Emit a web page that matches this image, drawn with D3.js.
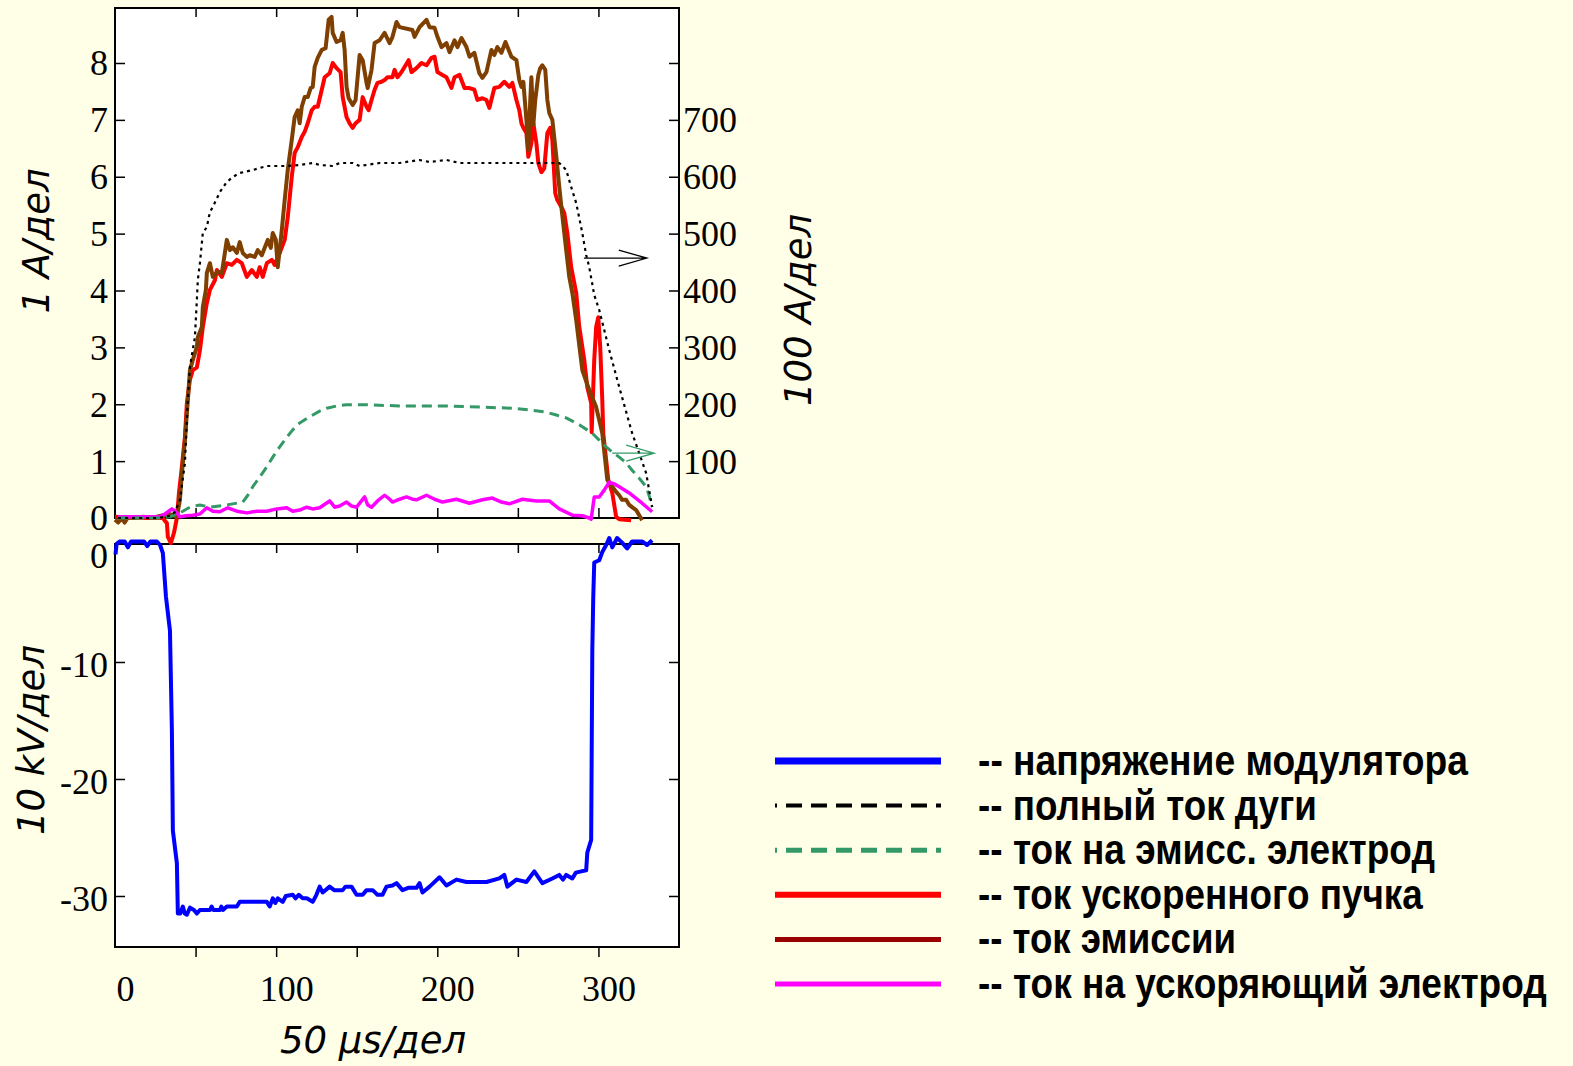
<!DOCTYPE html>
<html lang="ru">
<head>
<meta charset="UTF-8">
<title>Импульс тока и напряжения</title>
<script src="https://cdn.jsdelivr.net/npm/d3@7"></script>
<style>
  body { margin: 0; background: #fffee6; overflow: hidden; }
  svg { display: block; }
  .frame { fill: #fff; stroke: #000; stroke-width: 2; }
  .tick line { stroke: #000; stroke-width: 1.5; }
  .tick text { font-family: "Liberation Serif", "Times New Roman", serif; font-size: 36px; fill: #000; }
  .title { font-family: "DejaVu Sans", Verdana, sans-serif; font-style: italic; font-size: 37px; fill: #000; }
  .legend text { font-family: "Liberation Sans Narrow", "Arial Narrow", "Liberation Sans", Arial, sans-serif; font-weight: bold; font-size: 42px; fill: #000; }
</style>
</head>
<body>
<svg width="1573" height="1066"></svg>
<script>
// ---- data (time in us, top panel current in A, arc current in A, voltage in kV) ----
var xTicks = [50, 100, 150, 200, 250, 300];
var xLabels = [0, 100, 200, 300];
var leftTicksTop = [0, 1, 2, 3, 4, 5, 6, 7, 8];
var rightTicksTop = [100, 200, 300, 400, 500, 600, 700, 800];
var rightLabelsTop = [100, 200, 300, 400, 500, 600, 700];
var voltTicks = [0, -10, -20, -30];

var modulatorVoltage = [[0.3,-0.8],[1,0.1],[3,0.3],[6,0.3],[8,-0.2],[10,0.3],[18,0.3],[20,-0.1],[22,0.3],[26,0.3],[28,0.0],[29.7,-0.7],[31.6,-4.4],[34.1,-7.3],[35.3,-15.8],[35.9,-24.4],[38.4,-27.2],[39.0,-31.5],[40.5,-31.5],[42.1,-30.9],[43.3,-31.5],[44.6,-31.6],[46.5,-31.0],[49,-31.2],[50.8,-31.5],[52.7,-31.2],[58.9,-31.2],[60,-30.9],[61,-31.2],[65.1,-31.2],[66,-30.9],[67,-31.2],[69.4,-30.9],[75.6,-30.9],[77.4,-30.5],[94.2,-30.5],[96.0,-30.9],[97.9,-30.2],[99.5,-30.6],[101,-30.2],[104.1,-30.5],[106,-30.0],[110.3,-29.9],[112,-30.2],[114,-29.9],[116.5,-30.2],[119,-30.2],[122.7,-30.5],[125,-29.9],[127.0,-29.2],[128.9,-29.7],[133.2,-29.2],[136,-29.5],[141.3,-29.5],[143,-29.2],[146.8,-29.2],[149.9,-29.9],[153.7,-29.9],[156.1,-29.5],[159.9,-29.5],[162.9,-29.9],[166.0,-29.9],[168.5,-29.2],[172.2,-29.1],[174.7,-28.9],[178.4,-29.5],[182,-29.3],[187.1,-29.3],[189.0,-28.9],[190.8,-29.7],[195.2,-29.2],[201.4,-28.4],[205.7,-29.1],[211.9,-28.6],[218.1,-28.8],[230.5,-28.8],[238.5,-28.5],[241.6,-28.2],[243.5,-29.2],[249.1,-28.6],[255.3,-28.8],[260.2,-27.9],[265.2,-28.9],[271.4,-28.5],[275.7,-28.2],[278,-28.6],[280,-28.2],[283.8,-28.5],[286,-28.0],[289.3,-27.9],[292.4,-27.8],[293.1,-26.3],[295.5,-25.2],[296.2,-9.0],[296.8,-4.4],[297.4,-1.5],[300.5,-1.3],[302.4,-0.6],[304.8,0],[306.7,0.6],[308.6,-0.2],[311.6,0.6],[314.7,0.2],[317.8,-0.3],[320.9,0.3],[327.1,0.3],[330.2,0],[333.3,0.4]];

var arcCurrent = [[1.9,0],[26,0],[34.1,3.5],[37.2,10.5],[40.3,31.6],[43.4,96.7],[45.2,207.5],[46.5,265.5],[49.6,318.2],[50.8,383.3],[51.4,418.5],[52.7,448.4],[54.5,501.1],[57.0,511.6],[58.9,538.0],[60.7,546.8],[65.1,573.2],[69.4,590.8],[73.1,599.6],[77.4,606.6],[85.5,611.9],[94.2,618.9],[106.6,618.9],[114.6,620.7],[122.7,624.2],[127.0,620.7],[135.1,618.9],[139.4,624.2],[147.5,624.2],[151.8,618.9],[164.2,624.2],[176.6,624.2],[189.0,629.5],[195.2,626.0],[205.7,629.5],[213.8,624.2],[238.5,624.2],[275.7,624.2],[280.0,611.9],[283.1,582.0],[286.2,553.8],[290.0,501.1],[292.4,462.4],[294.3,441.3],[297.4,392.1],[300.5,365.7],[306.7,295.4],[312.9,230.3],[320.9,149.5],[329.6,79.1],[333.3,19.3]];

var emissElectrodeCurrent = [[1.9,0],[27.9,0],[34.1,0.02],[40.3,0.09],[46.5,0.19],[52.7,0.23],[58.9,0.19],[69.4,0.23],[79.3,0.28],[82.4,0.40],[85.5,0.55],[89.8,0.72],[94.2,0.90],[97.9,1.07],[102.2,1.25],[106.6,1.42],[110.3,1.55],[114.6,1.67],[120.8,1.78],[127.0,1.88],[131.4,1.93],[137.5,1.97],[143.7,1.99],[156.1,1.99],[176.6,1.97],[205.7,1.97],[226.1,1.95],[246.6,1.93],[257.1,1.90],[267.7,1.86],[273.9,1.81],[280.0,1.76],[288.1,1.64],[296.2,1.49],[300.5,1.37],[304.8,1.25],[308.6,1.16],[312.9,1.07],[317.2,0.97],[320.9,0.84],[325.3,0.70],[329.6,0.55],[331.4,0.40],[333.3,0.19]];

var beamCurrent = [[0,0.02],[10,0.01],[20,0],[29.7,0],[31.0,-0.05],[32.2,-0.09],[32.8,-0.33],[34.7,-0.44],[36.6,-0.26],[38.4,0],[39.7,0.44],[41.5,0.90],[43.4,1.42],[44.6,2.02],[46.5,2.43],[48.3,2.60],[50.8,2.65],[52.7,2.95],[54.5,3.36],[57.0,3.78],[58.9,4.01],[62.0,4.18],[63.2,4.36],[66.3,4.24],[69.4,4.48],[72.5,4.45],[75.6,4.54],[78.7,4.48],[81.8,4.24],[84.9,4.36],[88.0,4.24],[89.8,4.41],[91.7,4.24],[94.2,4.48],[97.3,4.54],[99.1,4.45],[102.2,4.66],[105.3,4.89],[107.2,5.29],[109.7,6.00],[111.5,6.42],[113.4,6.52],[115.9,6.70],[117.7,6.79],[119.6,6.94],[122.1,7.17],[123.9,7.23],[125.8,7.23],[128.3,7.53],[130.1,7.75],[133.2,7.82],[135.1,8.00],[137.5,7.91],[140.0,7.84],[141.3,7.40],[143.7,7.05],[145.6,6.94],[147.5,6.86],[149.3,6.94],[151.8,7.00],[153.7,7.40],[156.1,7.23],[157.4,7.17],[159.2,7.35],[161.1,7.53],[162.9,7.65],[165.4,7.67],[167.3,7.70],[169.1,7.75],[172.2,7.75],[173.5,7.88],[175.3,7.75],[177.8,7.84],[179.7,7.93],[182.2,8.05],[184.0,7.84],[187.1,7.91],[190.2,8.00],[193.3,7.96],[196.4,8.09],[198.3,8.11],[200.1,7.84],[203.2,7.79],[205.7,7.75],[208.8,7.56],[210.7,7.75],[213.8,7.79],[216.9,7.56],[220.0,7.56],[223.0,7.53],[224.9,7.35],[228.0,7.38],[230.5,7.35],[232.3,7.21],[235.4,7.56],[238.5,7.58],[241.6,7.67],[244.7,7.58],[246.6,7.65],[249.1,7.35],[250.9,7.17],[252.2,6.94],[253.4,6.86],[255.3,6.77],[256.5,6.35],[258.4,6.59],[259.6,6.94],[261.5,6.59],[262.7,6.24],[264.6,6.08],[266.4,6.15],[268.3,6.77],[270.1,6.86],[271.4,6.65],[273.2,5.71],[274.5,5.59],[277.0,5.47],[278.8,5.36],[280.7,5.01],[283.1,4.41],[286.2,3.96],[288.1,3.36],[291.2,2.78],[293.1,2.30],[295.5,2.02],[295.8,1.51],[297.4,2.78],[298.6,3.36],[299.9,3.53],[301.1,3.01],[302.4,2.07],[303.0,1.49],[304.8,1.02],[306.1,0.67],[308.6,0.44],[311.0,0.02],[312.9,-0.02],[320.3,-0.04]];

var emissionCurrent = [[0,-0.03],[2,-0.08],[4,0],[6,-0.08],[8,0.01],[12,0],[17,0.02],[24,0.01],[30,0.05],[34,0.07],[36,0.05],[38.4,0.02],[40.3,0.32],[41.5,0.79],[43.4,1.37],[45.2,2.07],[46.5,2.60],[48.3,2.78],[50.8,3.01],[51.4,3.18],[53.9,3.36],[54.5,3.71],[56.4,4.01],[57.0,4.31],[58.9,4.48],[60.7,4.24],[63.8,4.33],[66.3,4.31],[69.4,4.89],[71.3,4.71],[73.1,4.76],[75.6,4.66],[77.4,4.85],[79.3,4.66],[81.8,4.59],[83.6,4.62],[86.7,4.59],[88.6,4.71],[91.1,4.62],[92.9,4.75],[94.8,4.89],[96.7,4.75],[97.9,5.01],[99.8,4.89],[101.0,4.41],[103.5,5.06],[105.3,5.59],[107.2,6.12],[109.7,6.65],[111.5,7.05],[113.4,7.17],[114.6,6.94],[115.9,7.23],[117.7,7.40],[119.6,7.40],[121.4,7.56],[122.7,7.58],[123.9,7.93],[125.8,8.09],[128.3,8.23],[130.7,8.26],[132.6,8.76],[134.4,8.81],[135.1,8.53],[137.5,8.37],[140.0,8.40],[141.3,8.53],[142.5,8.23],[143.7,7.58],[145.0,7.38],[147.5,7.26],[149.3,7.35],[151.8,8.14],[153.7,8.05],[156.1,7.65],[156.8,7.56],[159.2,7.88],[161.1,8.35],[164.2,8.40],[167.3,8.53],[170.4,8.35],[172.2,8.46],[174.7,8.72],[176.6,8.63],[184.6,8.58],[185.9,8.46],[189.0,8.63],[193.3,8.76],[195.2,8.63],[198.3,8.62],[200.1,8.46],[202.6,8.28],[205.7,8.35],[207.6,8.19],[210.7,8.40],[212.5,8.28],[215.0,8.44],[218.1,8.28],[220.0,8.11],[223.0,8.18],[226.1,7.82],[228.0,7.74],[230.5,7.84],[233.6,8.23],[235.4,8.14],[237.3,8.28],[239.8,8.18],[242.3,8.37],[246.0,8.11],[249.1,8.05],[250.9,7.70],[252.2,7.58],[253.4,7.67],[255.3,7.00],[256.5,6.47],[257.7,7.35],[258.4,7.75],[259.6,6.91],[260.8,7.35],[262.7,7.79],[263.9,7.91],[265.2,7.96],[267.0,7.88],[268.3,7.35],[269.5,7.12],[271.4,7.00],[273.9,6.35],[275.7,5.82],[277.0,5.47],[278.8,5.01],[281.9,4.24],[283.8,3.96],[286.2,3.48],[290.0,2.60],[294.3,2.25],[298.6,1.95],[302.4,1.49],[304.2,1.02],[305.5,0.67],[307.3,0.60],[308.6,0.55],[311.0,0.46],[312.9,0.40],[314.7,0.32],[317.2,0.32],[319.1,0.23],[320.9,0.19],[323.4,0.14],[325.3,0.05],[327.1,-0.04]];

var accelElectrodeCurrent = [[1.9,0.02],[27.9,0.02],[31,0.07],[35.3,0.16],[37.8,0.11],[40.3,0.02],[44,0.04],[48.3,0.05],[52.7,0.07],[57.0,0.18],[60.7,0.12],[65.1,0.11],[70.0,0.18],[75.6,0.12],[81.8,0.09],[88.0,0.12],[94.2,0.12],[100.4,0.16],[106.6,0.18],[110.3,0.12],[114.6,0.14],[118.9,0.19],[122.7,0.16],[127.0,0.18],[133.2,0.30],[136.3,0.19],[139.4,0.21],[143.7,0.28],[146.8,0.21],[149.9,0.19],[154.9,0.37],[156.8,0.23],[159.2,0.19],[162.9,0.30],[167.3,0.40],[170.4,0.33],[172.2,0.28],[176.6,0.33],[180.9,0.37],[184.6,0.33],[187.1,0.32],[193.3,0.40],[198.3,0.33],[203.2,0.28],[211.9,0.33],[220.0,0.26],[228.0,0.32],[234.2,0.35],[239.8,0.28],[244.7,0.25],[252.8,0.33],[261.5,0.30],[269.5,0.30],[275.7,0.16],[283.8,0.05],[290,0.04],[294.3,0],[295.5,-0.02],[297.4,0.37],[300.5,0.37],[303.6,0.49],[306.7,0.63],[309.8,0.60],[312.9,0.55],[319.1,0.44],[327.1,0.26],[333.3,0.11]];

// arrows pointing to the right-hand scale: [x0, x1, y]
var arcArrow = [291, 330, 457];     // A (right scale)
var emissArrow = [308.6, 334.6, 1.14]; // A (left scale)

var legendItems = [
  {label: "-- напряжение модулятора", color: "#0000ff", width: 7, dash: null, len: 490},
  {label: "-- полный ток дуги", color: "#000000", width: 4, dash: "16,9", len: 339},
  {label: "-- ток на эмисс. электрод", color: "#339966", width: 5, dash: "16,9", len: 457},
  {label: "-- ток ускоренного пучка", color: "#ff0000", width: 6, dash: null, len: 445},
  {label: "-- ток эмиссии", color: "#990000", width: 5, dash: null, len: 258},
  {label: "-- ток на ускоряющий электрод", color: "#ff00ff", width: 5, dash: null, len: 569}
];

// ---- layout ----
var svg = d3.select("svg");
var x = d3.scaleLinear().domain([0, 350]).range([115, 679]);
var yTop = d3.scaleLinear().domain([0, 8.967]).range([518, 8]);
var yTopR = d3.scaleLinear().domain([0, 896.7]).range([518, 8]);
var yBot = d3.scaleLinear().domain([-34.36, 0.085]).range([947, 544]);

svg.append("rect").attr("width", 1573).attr("height", 1066).attr("fill", "#fffee6");

// panels
svg.append("rect").attr("class", "frame").attr("x", 115).attr("y", 8).attr("width", 564).attr("height", 510);
svg.append("rect").attr("class", "frame").attr("x", 115).attr("y", 544).attr("width", 564).attr("height", 403);

function clean(g) { g.select(".domain").remove(); }

// top panel axes
svg.append("g").attr("transform", "translate(115,0)")
  .call(d3.axisLeft(yTop).tickValues(leftTicksTop).tickSizeInner(-10).tickSizeOuter(0).tickPadding(7).tickFormat(String))
  .call(clean)
  .selectAll("text").attr("dy", "0.33em");
var rAx = svg.append("g").attr("transform", "translate(679,0)")
  .call(d3.axisRight(yTopR).tickValues(rightTicksTop).tickSizeInner(-10).tickSizeOuter(0).tickPadding(4)
    .tickFormat(function (d) { return rightLabelsTop.indexOf(d) >= 0 ? String(d) : ""; }))
  .call(clean);
rAx.selectAll("text").attr("dy", "0.33em");
svg.append("g").attr("transform", "translate(0,8)")
  .call(d3.axisTop(x).tickValues(xTicks).tickSizeInner(-9).tickSizeOuter(0).tickFormat(""))
  .call(clean);
svg.append("g").attr("transform", "translate(0,518)")
  .call(d3.axisBottom(x).tickValues(xTicks).tickSizeInner(-10).tickSizeOuter(0).tickFormat(""))
  .call(clean);

// bottom panel axes
var lb = svg.append("g").attr("transform", "translate(115,0)")
  .call(d3.axisLeft(yBot).tickValues(voltTicks).tickSizeInner(-10).tickSizeOuter(0).tickPadding(7).tickFormat(String))
  .call(clean);
lb.selectAll("text").attr("dy", function (d) { return d === 0 ? "0.62em" : "0.4em"; });
lb.selectAll("line").filter(function (d) { return d === 0; }).remove();
svg.append("g").attr("transform", "translate(679,0)")
  .call(d3.axisRight(yBot).tickValues(voltTicks.slice(1)).tickSizeInner(-10).tickSizeOuter(0).tickFormat(""))
  .call(clean);
svg.append("g").attr("transform", "translate(0,544)")
  .call(d3.axisTop(x).tickValues(xTicks).tickSizeInner(-9).tickSizeOuter(0).tickFormat(""))
  .call(clean);
svg.append("g").attr("transform", "translate(0,947)")
  .call(d3.axisBottom(x).tickValues(xTicks).tickSizeInner(10).tickSizeOuter(0).tickFormat(""))
  .call(clean);
svg.append("g").attr("transform", "translate(10,947)")
  .call(d3.axisBottom(x).tickValues(xLabels).tickSize(0).tickPadding(28).tickFormat(String))
  .call(clean);

// axis titles
svg.append("text").attr("class", "title").attr("transform", "translate(49,241) rotate(-90)")
  .attr("text-anchor", "middle").text("1 A/дел");
svg.append("text").attr("class", "title").attr("transform", "translate(811,310) rotate(-90)")
  .attr("text-anchor", "middle").text("100 A/дел");
svg.append("text").attr("class", "title").attr("transform", "translate(44,740) rotate(-90)")
  .attr("text-anchor", "middle").text("10 kV/дел");
svg.append("text").attr("class", "title").attr("x", 373).attr("y", 1053)
  .attr("text-anchor", "middle").text("50 µs/дел");

// curves
function lineOn(ys) {
  return d3.line().x(function (d) { return x(d[0]); }).y(function (d) { return ys(d[1]); });
}
function draw(data, ys, color, width, dash) {
  svg.append("path").datum(data)
    .attr("d", lineOn(ys))
    .attr("fill", "none")
    .attr("stroke", color)
    .attr("stroke-width", width)
    .attr("stroke-linejoin", "round")
    .attr("stroke-dasharray", dash);
}
draw(beamCurrent, yTop, "#ff0000", 4, null);
draw(emissionCurrent, yTop, "#7f3f00", 4, null);
draw(accelElectrodeCurrent, yTop, "#ff00ff", 3.5, null);
draw(emissElectrodeCurrent, yTop, "#339966", 3, "10,6");
draw(arcCurrent, yTopR, "#000000", 2.2, "3,4");
draw(modulatorVoltage, yBot, "#0000ff", 4, null);

// arrows
function arrow(a, ys, color) {
  var x0 = x(a[0]), x1 = x(a[1]), y = ys(a[2]);
  svg.append("path")
    .attr("d", "M" + x0 + "," + y + "H" + x1 + "M" + (x1 - 28) + "," + (y - 8) + "L" + x1 + "," + y + "L" + (x1 - 28) + "," + (y + 8))
    .attr("fill", "none").attr("stroke", color).attr("stroke-width", 1.3);
}
arrow(arcArrow, yTopR, "#000000");
arrow(emissArrow, yTop, "#339966");

// legend: text squeezed horizontally to the narrow face of the original
var leg = svg.append("g").attr("class", "legend");
legendItems.forEach(function (d, i) {
  var y = 761 + i * 44.6;
  leg.append("line").attr("x1", 775).attr("x2", 941).attr("y1", y).attr("y2", y)
    .attr("stroke", d.color).attr("stroke-width", d.width)
    .attr("stroke-dasharray", d.dash).attr("stroke-dashoffset", d.dash ? 14 : null);
  var t = leg.append("text").text(d.label);
  var w = t.node().getComputedTextLength();
  t.attr("transform", "translate(978," + (y + 14) + ") scale(" + (d.len / w) + ",1)");
});
</script>
</body>
</html>
